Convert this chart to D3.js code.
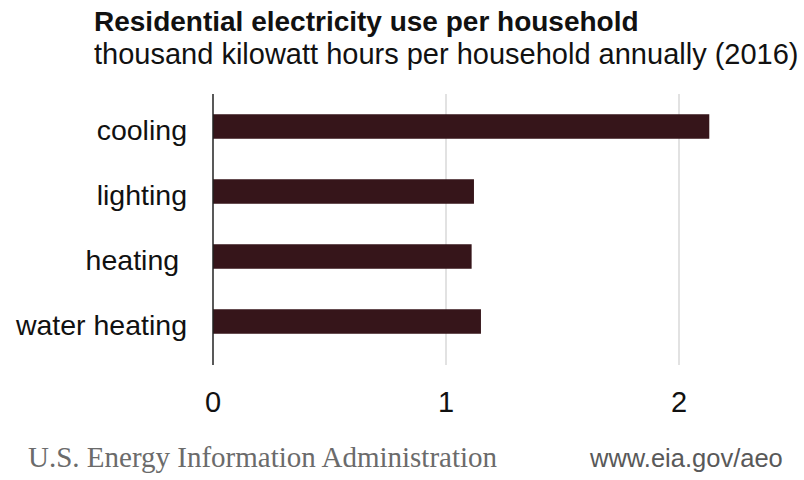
<!DOCTYPE html>
<html>
<head>
<meta charset="utf-8">
<script src="https://cdn.jsdelivr.net/npm/d3@7"></script>
<style>
	body { margin: 0; background: #ffffff; }
	svg { display: block; }
	text { font-family: "Liberation Sans", Arial, sans-serif; }
</style>
</head>
<body>
<div id="vis1"></div>
<script>
// setting constants
const FRAME_HEIGHT = 480;
const FRAME_WIDTH = 804;
const MARGINS = {left: 213, right: 125, top: 94, bottom: 115};

// data
const categories = ["cooling", "lighting", "heating ", "water heating"];
const values = [2.13, 1.12, 1.11, 1.15];
const xTicks = [0, 1, 2];

const TITLE = "Residential electricity use per household";
const SUBTITLE = "thousand kilowatt hours per household annually (2016)";
const SOURCE = "U.S. Energy Information Administration";
const URL = "www.eia.gov/aeo";

// adding frame
const FRAME = d3.select("#vis1")
	.append("svg")
	.attr("width", FRAME_WIDTH)
	.attr("height", FRAME_HEIGHT);

// scales
const X_SCALE = d3.scaleLinear()
	.domain([0, 2])
	.range([MARGINS.left, MARGINS.left + 466]);

const Y_SCALE = d3.scaleBand()
	.domain(categories)
	.range([94, 354])
	.paddingInner(0.623)
	.paddingOuter(0.3115);

const AXIS_TOP = 94;
const AXIS_BOTTOM = 365;

// gridlines
FRAME.append("g")
	.selectAll("line")
	.data(xTicks.filter((d) => d > 0))
	.enter()
	.append("line")
		.attr("x1", (d) => X_SCALE(d))
		.attr("x2", (d) => X_SCALE(d))
		.attr("y1", AXIS_TOP)
		.attr("y2", AXIS_BOTTOM)
		.attr("stroke", "#d9d9d9")
		.attr("stroke-width", 1.5);

// bars
FRAME.append("g")
	.selectAll("rect")
	.data(values)
	.enter()
	.append("rect")
		.attr("x", X_SCALE(0))
		.attr("y", (d, i) => Y_SCALE(categories[i]))
		.attr("width", (d) => X_SCALE(d) - X_SCALE(0))
		.attr("height", Y_SCALE.bandwidth())
		.attr("fill", "#36151a");

// vertical axis line
FRAME.append("line")
	.attr("x1", X_SCALE(0))
	.attr("x2", X_SCALE(0))
	.attr("y1", AXIS_TOP)
	.attr("y2", AXIS_BOTTOM)
	.attr("stroke", "#222")
	.attr("stroke-width", 1.5);

// category labels
FRAME.append("g")
	.selectAll("text")
	.data(categories)
	.enter()
	.append("text")
		.attr("x", 187)
		.attr("y", (d) => Y_SCALE(d) + Y_SCALE.bandwidth() / 2 + 13)
		.attr("text-anchor", "end")
		.attr("font-size", "28.5px")
		.attr("fill", "#111")
		.style("white-space", "pre")
		.text((d) => d);

// x tick labels
FRAME.append("g")
	.selectAll("text")
	.data(xTicks)
	.enter()
	.append("text")
		.attr("x", (d) => X_SCALE(d))
		.attr("y", 412)
		.attr("text-anchor", "middle")
		.attr("font-size", "29px")
		.attr("fill", "#111")
		.text((d) => d);

// titles
FRAME.append("text")
	.attr("x", 94)
	.attr("y", 31)
	.attr("font-size", "28px")
	.attr("font-weight", "bold")
	.attr("fill", "#111")
	.text(TITLE);

FRAME.append("text")
	.attr("x", 94)
	.attr("y", 64)
	.attr("font-size", "29px")
	.attr("fill", "#111")
	.text(SUBTITLE);

// footer
FRAME.append("text")
	.attr("x", 28)
	.attr("y", 467)
	.attr("font-size", "29px")
	.attr("fill", "#6b6b6b")
	.style("font-family", "'Liberation Serif', 'Times New Roman', serif")
	.text(SOURCE);

FRAME.append("text")
	.attr("x", 590)
	.attr("y", 467)
	.attr("font-size", "25.5px")
	.attr("fill", "#595959")
	.text(URL);
</script>
</body>
</html>
